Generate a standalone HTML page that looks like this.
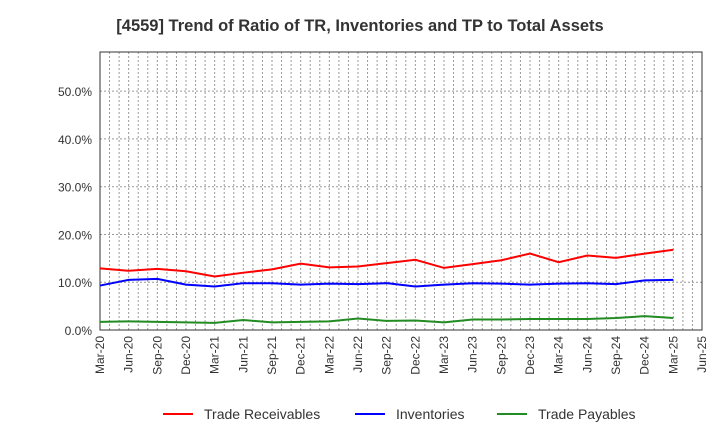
<!DOCTYPE html>
<html><head><meta charset="utf-8"><style>
body{margin:0;background:#fff;font-family:"Liberation Sans",sans-serif}
</style></head><body>
<svg width="720" height="440" id="c" xmlns="http://www.w3.org/2000/svg">
<text x="360" y="31" text-anchor="middle" font-size="16.5" font-weight="bold" fill="#333">[4559]  Trend of Ratio of TR, Inventories and TP to Total Assets</text>
<g id="grid"></g><g id="axes"></g><g id="series"></g>
<g font-size="14" fill="#333">
<g><line x1="163" y1="414" x2="193" y2="414" stroke="#f00" stroke-width="2"/><text x="204" y="419">Trade Receivables</text></g>
<g><line x1="355" y1="414" x2="385" y2="414" stroke="#00f" stroke-width="2"/><text x="396" y="419">Inventories</text></g>
<g><line x1="497" y1="414" x2="527" y2="414" stroke="#228b22" stroke-width="2"/><text x="538" y="419">Trade Payables</text></g>
</g>
</svg>
<script>
const categories=["Mar-20","Jun-20","Sep-20","Dec-20","Mar-21","Jun-21","Sep-21","Dec-21","Mar-22","Jun-22","Sep-22","Dec-22","Mar-23","Jun-23","Sep-23","Dec-23","Mar-24","Jun-24","Sep-24","Dec-24","Mar-25","Jun-25"];
const tradeReceivables=[12.9,12.4,12.8,12.3,11.2,12.0,12.7,13.9,13.1,13.3,14.0,14.7,13.0,13.8,14.6,16.0,14.2,15.6,15.1,16.0,16.8];
const inventories=[9.3,10.5,10.7,9.5,9.1,9.8,9.8,9.5,9.7,9.6,9.8,9.1,9.5,9.8,9.7,9.5,9.7,9.8,9.6,10.4,10.5];
const tradePayables=[1.7,1.8,1.7,1.6,1.5,2.1,1.6,1.7,1.8,2.4,1.9,2.0,1.6,2.2,2.2,2.3,2.3,2.3,2.5,2.9,2.5];
const yTicks=[0,10,20,30,40,50];
const L=100,R=702,T=52,B=330,YMAX=58.2;
const NS="http://www.w3.org/2000/svg";
const xs=i=>L+(R-L)*i/(categories.length-1);
const ys=v=>B-(B-T)*v/YMAX;
function mk(t,a,p){const e=document.createElementNS(NS,t);for(const k in a)e.setAttribute(k,a[k]);p.appendChild(e);return e;}
const g=document.getElementById('grid'),ax=document.getElementById('axes'),s=document.getElementById('series');
const nm=(categories.length-1)*3;
for(let m=0;m<=nm;m++){const x=L+(R-L)*m/nm;const l=mk('line',{x1:x,x2:x,y1:T,y2:B,stroke:'#999','stroke-dasharray':'2,2','stroke-width':1},g);

}
yTicks.forEach(v=>{const y=ys(v);const l=mk('line',{x1:L,x2:R,y1:y,y2:y,stroke:'#999','stroke-dasharray':'2,2'},g);


const t=mk('text',{x:L-8,y:y+5,'text-anchor':'end','font-size':12,fill:'#333'},ax);t.textContent=v.toFixed(1)+'%';

});
const fr=mk('rect',{x:L,y:T,width:R-L,height:B-T,fill:'none',stroke:'#333','stroke-width':1},ax);


categories.forEach((c,i)=>{const x=xs(i);const t=mk('text',{x:x+4,y:B+6,'text-anchor':'end','font-size':12,fill:'#333',transform:`rotate(-90 ${x+4} ${B+6})`},ax);t.textContent=c;

});
[[tradeReceivables,'#f00','trade-receivables-line'],[inventories,'#00f','inventories-line'],[tradePayables,'#228b22','trade-payables-line']].forEach(([d,col,n])=>{
const p=mk('polyline',{points:d.map((v,i)=>xs(i)+','+ys(v)).join(' '),fill:'none',stroke:col,'stroke-width':2},s);

});
</script>
</body></html>
